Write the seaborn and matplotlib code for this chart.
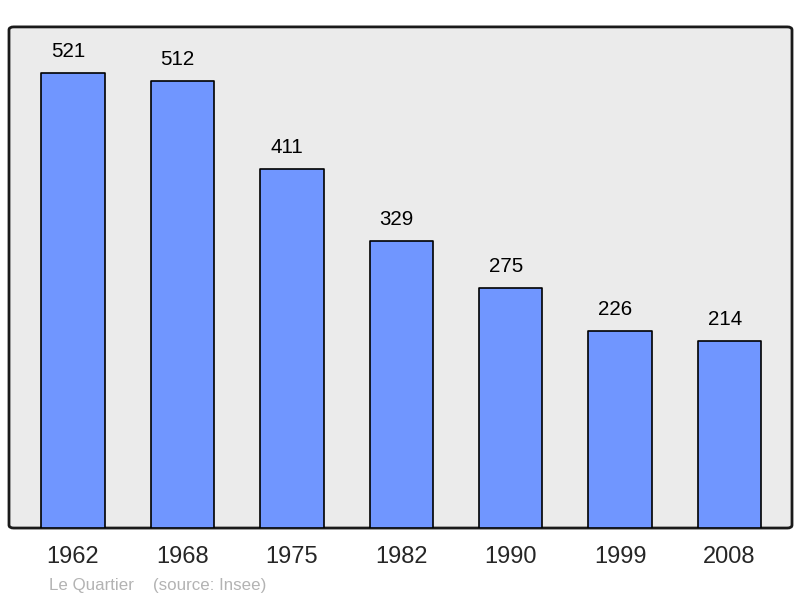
import matplotlib
matplotlib.use('Agg')
import matplotlib.pyplot as plt
import seaborn as sns
from matplotlib.patches import FancyBboxPatch

years = ['1962', '1968', '1975', '1982', '1990', '1999', '2008']
population = [521, 512, 411, 329, 275, 226, 214]

sns.set_style('white')
plt.rcParams['font.family'] = ['Liberation Sans', 'DejaVu Sans']

fig = plt.figure(figsize=(8, 5.98), dpi=100)
ax = fig.add_axes([0.01125, 0.117, 0.97875, 0.838])

sns.barplot(x=years, y=population, color='#7096ff', saturation=1,
            width=0.58, edgecolor='black', linewidth=1.2, ax=ax, zorder=3)
for p in ax.patches:
    p.set_joinstyle('round')

# value labels (sit a little left of the bar centre, as in the original)
for i, v in enumerate(population):
    ax.annotate(str(v), (i, v), xytext=(-3.5, 8.5), textcoords='offset points',
                ha='center', va='bottom', fontsize=14.8, color='black')

ax.set_xlim(-0.585, 6.57)
ax.set_ylim(0, 574)
ax.set_yticks([])
ax.tick_params(axis='x', length=0, pad=13, labelsize=17)
ax.set_xlabel('')
ax.set_ylabel('')

ax.set_facecolor('none')
for s in ax.spines.values():
    s.set_visible(False)

# rounded grey frame behind the bars
frame = FancyBboxPatch((0, 0), 1, 1, boxstyle='round,pad=0,rounding_size=0.006',
                       transform=ax.transAxes, facecolor='#ebebeb',
                       edgecolor='#1a1a1a', linewidth=2, clip_on=False, zorder=0)
ax.add_patch(frame)

fig.text(0.061, 0.013, 'Le Quartier', color='#b3b3b3', fontsize=12.2)
fig.text(0.191, 0.013, '(source: Insee)', color='#b3b3b3', fontsize=12.2)

fig.savefig('out.png', dpi=100)
